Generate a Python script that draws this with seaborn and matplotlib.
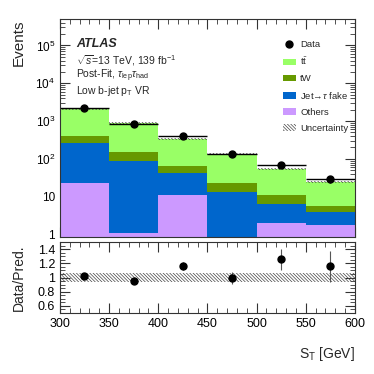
import numpy as np
import pandas as pd
import matplotlib
matplotlib.use("Agg")
import matplotlib.pyplot as plt
import matplotlib.patches as mpatches
import matplotlib.lines as mlines
from matplotlib.ticker import FixedLocator, MultipleLocator, LogLocator, NullFormatter, FuncFormatter
import seaborn as sns

# ------------------------------------------------------------------ #
#  Données                                       #
# ------------------------------------------------------------------ #
edges   = [300, 350, 400, 450, 500, 550, 600]
centers = [325, 375, 425, 475, 525, 575]

others = [23.0, 1.1, 11.3, 0.4, 2.07, 1.83]
fake   = [242.0, 88.0, 31.7, 12.7, 4.4, 2.0]
tw     = [135.0, 61.0, 22.0, 9.3, 4.8, 2.0]
ttbar  = [1750.0, 750.0, 280.0, 111.0, 43.7, 19.2]

data     = [2200.0, 855.0, 400.0, 132.0, 69.0, 29.0]
data_err = [47.0, 29.0, 20.0, 11.5, 8.3, 5.4]
rel_unc  = [0.06, 0.06, 0.06, 0.06, 0.06, 0.06]

processes = [r"$\mathrm{t\bar{t}}$", "tW", r"Jet→$\tau$ fake", "Others"]
colors    = ["#99ff66", "#669900", "#0066cc", "#cc99ff"]

HATCH = "\\" * 10

sns.set_theme(style="ticks")
plt.rcParams["font.family"] = ["Liberation Sans", "DejaVu Sans"]
plt.rcParams["mathtext.fontset"] = "custom"
plt.rcParams["mathtext.rm"] = "Liberation Sans"
plt.rcParams["mathtext.it"] = "Liberation Sans:italic"
plt.rcParams["mathtext.bf"] = "Liberation Sans:bold"
plt.rcParams["hatch.linewidth"] = 0.5
plt.rcParams["hatch.color"] = "#444444"

df = pd.DataFrame({
    "st": centers * 4,
    "events": ttbar + tw + fake + others,
    "process": sum([[p] * len(centers) for p in processes], []),
})

total = np.array(ttbar) + np.array(tw) + np.array(fake) + np.array(others)
ratio = np.array(data) / total
ratio_err = np.array(data_err) / total

fig = plt.figure(figsize=(3.74, 3.74), dpi=100)
ax = fig.add_axes([0.160, 0.366, 0.789, 0.583])
axr = fig.add_axes([0.160, 0.163, 0.789, 0.190], sharex=ax)

# ------------------------------------------------------------------ #
#  Panneau principal                                                  #
# ------------------------------------------------------------------ #
sns.histplot(
    data=df, x="st", weights="events", hue="process", hue_order=processes,
    multiple="stack", bins=edges, palette=dict(zip(processes, colors)),
    alpha=1, linewidth=0, element="bars", legend=False, ax=ax,
)
ax.set_yscale("log")

lo = np.append(total * (1 - np.array(rel_unc)), total[-1] * (1 - rel_unc[-1]))
hi = np.append(total * (1 + np.array(rel_unc)), total[-1] * (1 + rel_unc[-1]))
ax.fill_between(edges, lo, hi, step="post", facecolor="none",
                edgecolor="#444444", hatch=HATCH, linewidth=0)

ax.errorbar(centers, data, xerr=25, yerr=data_err, fmt="o", color="black",
            markersize=5, elinewidth=1, capsize=0)

ax.set_xlim(300, 600)
ax.set_ylim(0.85, 5e5)
ax.set_ylabel("Events", fontsize=11, loc="top")
ax.set_xlabel("")
ax.yaxis.set_label_coords(-0.115, 1.0)


def log_fmt(v, pos):
    if v == 1:
        return "1"
    if v == 10:
        return "10"
    return r"$10^{%d}$" % int(round(np.log10(v)))


ax.yaxis.set_major_locator(LogLocator(base=10, numticks=10))
ax.yaxis.set_major_formatter(FuncFormatter(log_fmt))
ax.yaxis.set_minor_locator(LogLocator(base=10, subs=np.arange(2, 10), numticks=20))
ax.yaxis.set_minor_formatter(NullFormatter())
plt.setp(ax.get_xticklabels(), visible=False)

ax.text(0.055, 0.885, "ATLAS", transform=ax.transAxes, fontsize=9,
        fontweight="bold", fontstyle="italic", va="center")
ax.text(0.055, 0.808, r"$\sqrt{s}$=13 TeV, 139 fb$^{-1}$", transform=ax.transAxes,
        fontsize=7.5, va="center")
ax.text(0.055, 0.74, r"Post-Fit, $\tau_{\rm lep}\tau_{\rm had}$", transform=ax.transAxes,
        fontsize=7.5, va="center")
ax.text(0.055, 0.67, r"Low b-jet p$_{\rm T}$ VR", transform=ax.transAxes,
        fontsize=7.5, va="center")

handles = [mlines.Line2D([], [], color="black", marker="o", linestyle="none", markersize=5)]
handles += [mpatches.Patch(facecolor=c, edgecolor="none") for c in colors]
handles += [mpatches.Patch(facecolor="white", edgecolor="#444444", hatch=HATCH, linewidth=0)]
labels = ["Data"] + processes + ["Uncertainty"]
ax.legend(handles, labels, loc="upper right", bbox_to_anchor=(1.0, 0.935),
          frameon=False, fontsize=6.8, handlelength=1.4, handleheight=0.7,
          handletextpad=0.45, labelspacing=0.72, borderaxespad=0.3)

# ------------------------------------------------------------------ #
#  Panneau ratio                                                      #
# ------------------------------------------------------------------ #
rlo = np.append(1 - np.array(rel_unc), 1 - rel_unc[-1])
rhi = np.append(1 + np.array(rel_unc), 1 + rel_unc[-1])
axr.fill_between(edges, rlo, rhi, step="post", facecolor="none",
                 edgecolor="#444444", hatch=HATCH, linewidth=0)
axr.errorbar(centers, ratio, yerr=ratio_err, fmt="o", color="black",
             markersize=5, elinewidth=0.8, ecolor="#555555", capsize=0)
axr.set_ylim(0.5, 1.5)
axr.yaxis.set_major_locator(FixedLocator([0.6, 0.8, 1.0, 1.2, 1.4]))
axr.yaxis.set_major_formatter(FuncFormatter(lambda v, p: ("%g" % v)))
axr.yaxis.set_minor_locator(MultipleLocator(0.05))
axr.set_ylabel("Data/Pred.", fontsize=10)
axr.yaxis.set_label_coords(-0.115, 0.5)
axr.set_xlabel(r"S$_{\rm T}$ [GeV]", fontsize=10, loc="right", labelpad=11)
axr.xaxis.set_major_locator(MultipleLocator(50))
axr.xaxis.set_minor_locator(MultipleLocator(10))

for a in (ax, axr):
    a.tick_params(which="both", direction="in", top=True, right=True, colors="#333333",
                  labelcolor="black")
    a.tick_params(which="major", length=7, width=0.8)
    a.tick_params(which="minor", length=3.5, width=0.6)
    a.tick_params(axis="both", labelsize=9)
    for s in a.spines.values():
        s.set_linewidth(0.8)
        s.set_color("#333333")
ax.tick_params(axis="y", labelsize=8.5)

fig.savefig("out.png", dpi=100)
